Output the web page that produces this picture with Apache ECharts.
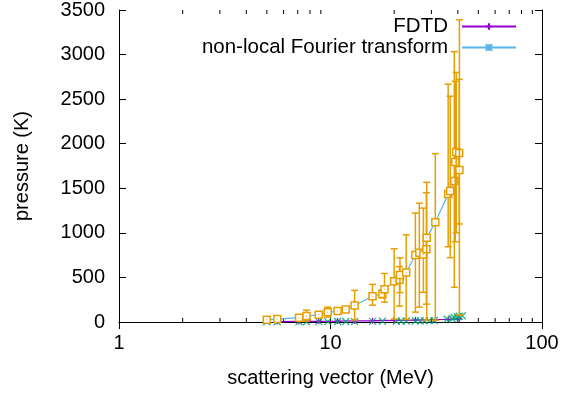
<!DOCTYPE html>
<html>
<head>
<meta charset="utf-8">
<script src="https://cdn.jsdelivr.net/npm/echarts@6/dist/echarts.min.js"></script>
<style>
  html, body { margin: 0; padding: 0; background: #fff; }
  #chart { width: 579px; height: 393px; }
</style>
</head>
<body>
<div id="chart"></div>
<script>
// orange points with error bars (x, y, low, high)
var sqX = [5.0, 5.6, 7.1, 7.7, 8.8, 9.7, 10.8, 11.8, 13.0, 15.8, 17.6, 18.0, 20.0, 21.2, 21.3, 22.8, 25.2, 26.3, 27.5, 28.4, 28.5, 31.3, 36.0, 36.8, 38.5, 38.9, 39.3, 40.6, 40.7];
var sqY = [25, 33, 48, 67, 81, 108, 122, 141, 185, 289, 315, 367, 456, 474, 526, 556, 752, 778, 756, 815, 944, 1119, 1437, 1470, 1581, 1796, 1907, 1896, 1704];
var sqLow = [12, 20, 30, 10, 60, 55, 100, 115, 22, 189, 270, 222, 33, 178, 330, 30, 111, 167, 333, 200, 22, 20, 844, 722, 389, 900, 1000, 1100, 78];
var sqHigh = [40, 50, 70, 133, 105, 167, 145, 170, 355, 422, 360, 544, 822, 622, 720, 978, 1222, 1333, 1278, 1450, 1567, 1889, 2667, 2533, 3033, 2700, 2800, 2722, 3390];

// green crosses near zero
var greenX = [5.0, 5.6, 7.1, 7.7, 8.8, 9.7, 10.8, 11.8, 13.0, 15.8, 17.6, 20.5, 21.6, 22.8, 25.2, 26.6, 27.8, 29.3, 30.9, 35.6, 37.6, 38.5, 39.7, 40.6, 42.0];
var greenY = [2, 2, 3, 3, 4, 4, 5, 5, 6, 7, 8, 9, 10, 11, 12, 13, 14, 15, 17, 30, 40, 50, 58, 65, 70];

// FDTD
var fdtdX = [5.6, 7.1, 8.8, 10.8, 13.0, 15.8, 20.0, 25.2, 31.3, 36.0, 40.6];
var fdtdY = [5, 6, 8, 10, 12, 14, 18, 22, 26, 30, 35];

// log axis minor ticks
var minorTickVals = [2, 3, 4, 5, 6, 7, 8, 9, 20, 30, 40, 50, 60, 70, 80, 90];

var FONT = 'Liberation Sans';
var PURPLE = '#9400d3', BLUE = '#56b4e9', GREEN = '#009e73', ORANGE = '#e69f00';

function zip(a, b) {
    var out = [];
    for (var i = 0; i < a.length; i++) out.push([a[i], b[i]]);
    return out;
}

var errData = [];
for (var i = 0; i < sqX.length; i++) {
    errData.push([sqX[i], sqY[i], sqLow[i], sqHigh[i]]);
}

var myChart = echarts.init(document.getElementById('chart'));
var textStyle = { fontFamily: FONT, fontSize: 20, color: '#000' };

var option = {
    animation: false,
    grid: { left: 119, right: 37, top: 10, bottom: 68 },
    legend: [{
        data: ['FDTD'],
        right: 62, top: 16, padding: 0,
        align: 'right',
        itemWidth: 54, itemHeight: 8,
        textStyle: Object.assign({ padding: [0, 9, 0, 0] }, textStyle, { fontSize: 20.5 })
    }, {
        data: ['non-local Fourier transform'],
        right: 62, top: 37, padding: 0,
        align: 'right',
        itemWidth: 54, itemHeight: 8,
        textStyle: Object.assign({ padding: [0, 9, 0, 0] }, textStyle, { fontSize: 20.5 })
    }],
    xAxis: [{
        type: 'log', logBase: 10, min: 1, max: 100,
        name: 'scattering vector (MeV)',
        nameLocation: 'middle', nameGap: 46,
        nameTextStyle: textStyle,
        axisLine: { lineStyle: { color: '#000', width: 1 } },
        axisTick: { inside: true, length: 7, lineStyle: { color: '#000' } },
        axisLabel: Object.assign({ margin: 11 }, textStyle),
        splitLine: { show: false }
    }, {
        type: 'log', logBase: 10, min: 1, max: 100, position: 'top',
        axisLine: { lineStyle: { color: '#000', width: 1 } },
        axisTick: { inside: true, length: 7, lineStyle: { color: '#000' } },
        axisLabel: { show: false },
        splitLine: { show: false }
    }],
    yAxis: [{
        type: 'value', min: 0, max: 3500, interval: 500,
        name: 'pressure (K)',
        nameLocation: 'middle', nameGap: 87,
        nameTextStyle: textStyle,
        axisLine: { show: true, lineStyle: { color: '#000', width: 1 } },
        axisTick: { show: true, inside: true, length: 7, lineStyle: { color: '#000' } },
        axisLabel: Object.assign({ margin: 14, formatter: function (v) { return String(v); } }, textStyle),
        splitLine: { show: false }
    }, {
        type: 'value', min: 0, max: 3500, interval: 500, position: 'right',
        axisLine: { show: true, lineStyle: { color: '#000', width: 1 } },
        axisTick: { show: true, inside: true, length: 7, lineStyle: { color: '#000' } },
        axisLabel: { show: false },
        splitLine: { show: false }
    }],
    series: [{
        // minor ticks of the log axis, bottom and top
        name: 'minor',
        type: 'custom',
        silent: true,
        clip: false,
        data: minorTickVals.map(function (v) { return [v]; }),
        renderItem: function (params, api) {
            var b = api.coord([api.value(0), 0]);
            var t = api.coord([api.value(0), 3500]);
            var st = { stroke: '#000', lineWidth: 1 };
            return {
                type: 'group', children: [
                    { type: 'line', shape: { x1: b[0], y1: b[1], x2: b[0], y2: b[1] - 4 }, style: st },
                    { type: 'line', shape: { x1: t[0], y1: t[1], x2: t[0], y2: t[1] + 4 }, style: st }
                ]
            };
        }
    }, {
        name: 'FDTD',
        type: 'line',
        data: zip(fdtdX, fdtdY),
        symbol: 'path://M0,5L10,5M5,0L5,10',
        symbolSize: 6,
        showAllSymbol: true,
        lineStyle: { color: PURPLE, width: 1.3 },
        itemStyle: { color: PURPLE, borderColor: PURPLE, borderWidth: 1.2 }
    }, {
        name: 'non-local Fourier transform',
        type: 'line',
        data: zip(sqX, sqY),
        symbol: 'path://M0,0L10,10M10,0L0,10M0,5L10,5M5,0L5,10',
        symbolSize: 6,
        showAllSymbol: true,
        lineStyle: { color: BLUE, width: 1.2 },
        itemStyle: { color: BLUE, borderColor: BLUE, borderWidth: 1.2 }
    }, {
        name: 'green',
        type: 'scatter',
        data: zip(greenX, greenY),
        symbol: 'path://M0,0L10,10M10,0L0,10',
        symbolSize: 7,
        z: 4,
        itemStyle: { color: GREEN, borderColor: GREEN, borderWidth: 1.3 }
    }, {
        name: 'errors',
        type: 'custom',
        data: errData,
        clip: false,
        z: 6,
        renderItem: function (params, api) {
            var x = api.value(0);
            var c = api.coord([x, api.value(1)]);
            var lo = api.coord([x, api.value(2)]);
            var hi = api.coord([x, api.value(3)]);
            var w = 3.5;
            var st = { stroke: ORANGE, lineWidth: 1.5 };
            return {
                type: 'group', children: [
                    { type: 'line', shape: { x1: c[0], y1: hi[1], x2: c[0], y2: lo[1] }, style: st },
                    { type: 'line', shape: { x1: c[0] - w, y1: hi[1], x2: c[0] + w, y2: hi[1] }, style: st },
                    { type: 'line', shape: { x1: c[0] - w, y1: lo[1], x2: c[0] + w, y2: lo[1] }, style: st },
                    { type: 'rect', shape: { x: c[0] - 3.5, y: c[1] - 3.5, width: 7, height: 7 },
                      style: { fill: '#fff', stroke: ORANGE, lineWidth: 1.5 } },
                    { type: 'rect', shape: { x: c[0] - 0.5, y: c[1] - 0.5, width: 1, height: 1 },
                      style: { fill: ORANGE } }
                ]
            };
        }
    }]
};
option && myChart.setOption(option);
</script>
</body>
</html>
